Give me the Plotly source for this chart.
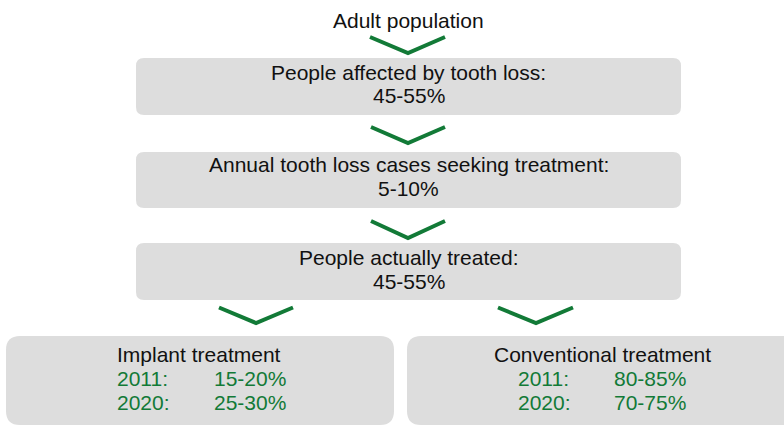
import plotly.graph_objects as go

# ---------------- data ----------------
header = "Adult population"
stage_labels = [
    "People affected by tooth loss:",
    "Annual tooth loss cases seeking treatment:",
    "People actually treated:",
]
stage_values = ["45-55%", "5-10%", "45-55%"]
branch_titles = ["Implant treatment", "Conventional treatment"]
years = ["2011:", "2020:"]
implant_shares = ["15-20%", "25-30%"]
conventional_shares = ["80-85%", "70-75%"]

# ---------------- layout geometry (pixel space) ----------------
W, H = 784, 426
GREEN = "#127a37"
BOX = "#dddddd"
FONT = "Liberation Sans, Arial, sans-serif"
FS = 21

stage_boxes = [(136, 58, 681, 115), (136, 152, 681, 208), (136, 243, 681, 300)]
stage_text_y = [(72, 95.5), (164, 188), (257, 281)]
branch_boxes = [(6, 336, 394, 425), (407, 336, 800, 425)]
branch_text_x = [(115, 212), (516, 612)]
branch_title_x = [115, 492]
branch_rows_y = [354, 378, 402]
chevrons = [
    (370, 37, 408, 53, 445, 37),
    (371, 127, 408, 143, 445, 127),
    (371, 221, 408, 238, 445, 221),
    (219, 307.5, 256, 323, 293, 307.5),
    (498, 307.5, 536, 323, 573, 307.5),
]


def rounded(x0, y0, x1, y1, r):
    return (
        f"M {x0 + r} {y0} L {x1 - r} {y0} Q {x1} {y0} {x1} {y0 + r} "
        f"L {x1} {y1 - r} Q {x1} {y1} {x1 - r} {y1} "
        f"L {x0 + r} {y1} Q {x0} {y1} {x0} {y1 - r} "
        f"L {x0} {y0 + r} Q {x0} {y0} {x0 + r} {y0} Z"
    )


shapes = []
for b in stage_boxes:
    shapes.append(dict(type="path", path=rounded(*b, 8), fillcolor=BOX,
                       line=dict(width=0), xref="x", yref="y", layer="below"))
for b in branch_boxes:
    shapes.append(dict(type="path", path=rounded(*b, 14), fillcolor=BOX,
                       line=dict(width=0), xref="x", yref="y", layer="below"))
for c in chevrons:
    shapes.append(dict(type="path",
                       path=f"M {c[0]} {c[1]} L {c[2]} {c[3]} L {c[4]} {c[5]}",
                       line=dict(color=GREEN, width=4), xref="x", yref="y"))

ann = []


def txt(x, y, s, color="#111111", xanchor="center"):
    ann.append(dict(x=x, y=y, text=s, showarrow=False, xref="x", yref="y",
                    xanchor=xanchor, yanchor="middle",
                    font=dict(family=FONT, size=FS, color=color)))


txt(408, 20, header)
for (lab, val, (y1, y2)) in zip(stage_labels, stage_values, stage_text_y):
    txt(408.5, y1, lab)
    txt(408.5, y2, val)

for i, (title, shares) in enumerate(zip(branch_titles, [implant_shares, conventional_shares])):
    txt(branch_title_x[i], branch_rows_y[0], title, xanchor="left")
    for j, (yr, sh) in enumerate(zip(years, shares)):
        txt(branch_text_x[i][0], branch_rows_y[j + 1], yr, color=GREEN, xanchor="left")
        txt(branch_text_x[i][1], branch_rows_y[j + 1], sh, color=GREEN, xanchor="left")

fig = go.Figure()
fig.add_trace(go.Scatter(x=[0, W], y=[0, H], mode="markers",
                         marker=dict(opacity=0), hoverinfo="skip", showlegend=False))
fig.update_layout(
    width=W, height=H,
    margin=dict(l=0, r=0, t=0, b=0),
    paper_bgcolor="white", plot_bgcolor="white",
    xaxis=dict(range=[0, W], visible=False, fixedrange=True),
    yaxis=dict(range=[H, 0], visible=False, fixedrange=True),
    shapes=shapes, annotations=ann, showlegend=False,
)
fig.write_html(
    "out.html",
    config={"displayModeBar": False},
    post_script="document.body.style.margin='0';document.body.style.overflow='hidden';",
)
